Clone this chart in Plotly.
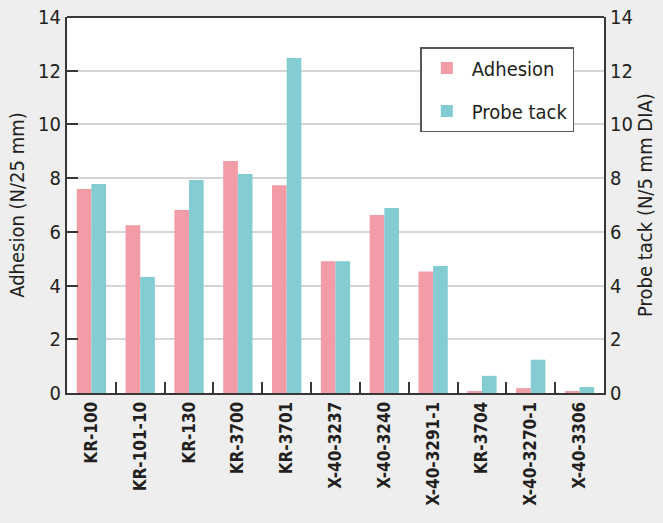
import plotly.graph_objects as go

categories = ["KR-100", "KR-101-10", "KR-130", "KR-3700", "KR-3701", "X-40-3237",
              "X-40-3240", "X-40-3291-1", "KR-3704", "X-40-3270-1", "X-40-3306"]
adhesion = [7.6, 6.25, 6.81, 8.64, 7.74, 4.91, 6.63, 4.52, 0.07, 0.18, 0.04]
probe_tack = [7.78, 4.32, 7.93, 8.15, 12.47, 4.91, 6.89, 4.73, 0.64, 1.24, 0.22]
y_ticks = [0, 2, 4, 6, 8, 10, 12, 14]

FONT = "DejaVu Sans Condensed, Liberation Sans Narrow, sans-serif"
TXT = "#231f20"
AX = "#3a3536"

fig = go.Figure()
fig.add_trace(go.Bar(x=categories, y=adhesion, name="Adhesion", marker_color="#f19ca7",
                     marker_line_width=0, offsetgroup="a", yaxis="y", legendgroup="a"))
fig.add_trace(go.Bar(x=categories, y=probe_tack, name="Probe tack", marker_color="#83ccd2",
                     marker_line_width=0, offsetgroup="b", yaxis="y2", legendgroup="b"))

fig.update_layout(
    width=663, height=523,
    paper_bgcolor="#eeeeee", plot_bgcolor="#ffffff",
    margin=dict(l=67, r=59, t=17, b=130, autoexpand=False),
    barmode="group", bargap=0.4, bargroupgap=0,
    font=dict(family=FONT, color=TXT),
    showlegend=True,
    legend=dict(x=0.658, y=0.92, xanchor="left", yanchor="top",
                bgcolor="#ffffff", bordercolor="#5a5556", borderwidth=1.5,
                font=dict(size=20, family=FONT, color=TXT),
                itemwidth=40, tracegroupgap=14),
    xaxis=dict(
        type="category", showline=True, linecolor=AX, linewidth=2, automargin=False,
        ticks="inside", tickson="boundaries", ticklen=11, tickwidth=2, tickcolor=AX,
        tickangle=-90, tickfont=dict(size=17, family=FONT, color=TXT, weight="bold"),
        showgrid=False,
    ),
    yaxis=dict(
        range=[0, 14], tickvals=y_ticks, showline=True, linecolor=AX, linewidth=2,
        ticks="inside", ticklen=11, tickwidth=2, tickcolor=AX, automargin=False,
        showgrid=True, gridcolor="#d6d6d6", gridwidth=2,
        tickfont=dict(size=20, family=FONT, color=TXT),
        title=dict(text="Adhesion (N/25 mm)", font=dict(size=20, family=FONT, color=TXT), standoff=8),
        zeroline=False,
    ),
    yaxis2=dict(
        range=[0, 14], tickvals=y_ticks, overlaying="y", side="right", anchor="x",
        showline=True, linecolor=AX, linewidth=2, ticks="", showgrid=False, automargin=False,
        tickfont=dict(size=20, family=FONT, color=TXT),
        title=dict(text="Probe tack (N/5 mm DIA)", font=dict(size=20, family=FONT, color=TXT), standoff=4),
        zeroline=False,
    ),
)
fig.add_shape(type="line", xref="paper", yref="paper", x0=0, x1=1, y0=1, y1=1,
              line=dict(color=AX, width=2))

fig.write_html("out.html", config={"displayModeBar": False},
               post_script="document.body.style.margin='0';document.body.style.background='#eeeeee';")
